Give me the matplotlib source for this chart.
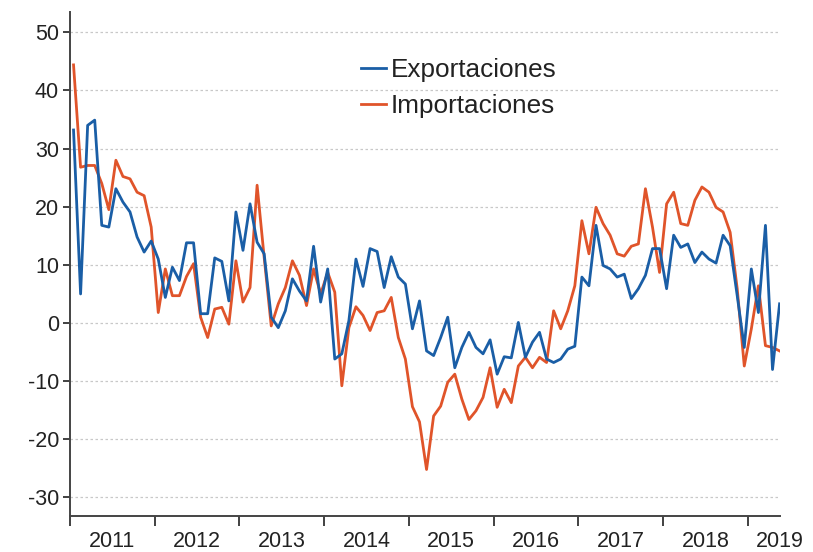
import numpy as np
import matplotlib
matplotlib.use("Agg")
import matplotlib.pyplot as plt

plt.rcParams['font.family'] = ['Liberation Sans', 'DejaVu Sans']
plt.rcParams['axes.unicode_minus'] = False

start_year = 2011
years = [2011, 2012, 2013, 2014, 2015, 2016, 2017, 2018, 2019]

exportaciones = [
    33.2, 5.0, 34.0, 34.9, 16.8, 16.5, 23.1, 20.8, 19.1, 14.8, 12.2, 14.1,
    11.0, 4.4, 9.6, 7.3, 13.8, 13.8, 1.6, 1.6, 11.2, 10.6, 3.8, 19.1,
    12.5, 20.5, 13.9, 11.9, 1.0, -0.8, 2.1, 7.6, 5.5, 3.8, 13.2, 3.6,
    9.3, -6.2, -5.3, 0.4, 11.0, 6.3, 12.8, 12.3, 6.1, 11.4, 7.9, 6.7,
    -1.0, 3.8, -4.8, -5.6, -2.5, 1.0, -7.7, -4.2, -1.6, -4.2, -5.3, -2.9,
    -8.8, -5.8, -6.0, 0.1, -5.9, -3.3, -1.6, -6.2, -6.8, -6.2, -4.5, -4.0,
    7.9, 6.4, 16.8, 9.9, 9.3, 7.9, 8.4, 4.2, 5.9, 8.2, 12.8, 12.8,
    5.9, 15.1, 13.0, 13.6, 10.4, 12.2, 11.0, 10.3, 15.1, 13.3, 4.7, -4.2,
    9.3, 1.8, 16.8, -8.0, 3.3,
]

importaciones = [
    44.4, 26.8, 27.1, 27.1, 24.0, 19.5, 28.0, 25.2, 24.8, 22.5, 21.9, 16.5,
    1.8, 9.3, 4.7, 4.7, 8.0, 10.2, 1.0, -2.5, 2.4, 2.7, -0.2, 10.7,
    3.6, 6.1, 23.7, 11.3, -0.5, 3.3, 6.1, 10.7, 8.2, 3.0, 9.3, 5.0,
    8.7, 5.3, -10.8, -0.8, 2.8, 1.3, -1.3, 1.8, 2.1, 4.4, -2.5, -6.2,
    -14.4, -17.0, -25.2, -16.0, -14.3, -10.2, -8.8, -13.1, -16.6, -15.1, -12.8, -7.7,
    -14.5, -11.4, -13.7, -7.4, -5.9, -7.7, -5.9, -6.8, 2.1, -1.0, 2.1, 6.4,
    17.6, 11.9, 19.9, 17.1, 15.1, 11.9, 11.5, 13.2, 13.6, 23.1, 16.5, 8.7,
    20.5, 22.5, 17.1, 16.8, 21.1, 23.4, 22.5, 19.9, 19.1, 15.6, 5.9, -7.4,
    -1.0, 6.4, -3.9, -4.2, -4.8,
]

n = len(exportaciones)
t = start_year + (np.arange(n) + 0.5) / 12.0

fig = plt.figure(figsize=(8.13, 5.52), dpi=100)
ax = fig.add_axes([70 / 813, 1 - 516 / 552, 710 / 813, (516 - 12) / 552])

blue = '#1a5ea6'
orange = '#e0542a'
ax.plot(t, exportaciones, color=blue, lw=2.0, label='Exportaciones', zorder=3)
ax.plot(t, importaciones, color=orange, lw=2.0, label='Importaciones', zorder=2)

ax.set_xlim(2011, t[-1] + 0.005)
ax.set_ylim(-33.2, 53.5)

ax.set_yticks(np.arange(-30, 51, 10))
ax.yaxis.grid(True, color='#c8c8c8', linestyle=(0, (2, 2)), lw=0.9)
ax.set_axisbelow(True)

ax.set_xticks(years)
ax.set_xticklabels([])
label_pos = [y + 0.5 for y in years[:-1]] + [t[-1]]
ax.set_xticks(label_pos, minor=True)
ax.set_xticklabels([str(y) for y in years], minor=True)
ax.tick_params(axis='x', which='major', direction='out', length=7, width=1.3, color='#333333')
ax.tick_params(axis='x', which='minor', length=0, pad=11, labelsize=15.5, labelcolor='#222222')
ax.tick_params(axis='y', direction='out', length=5, width=1.3, color='#333333', labelsize=15.5,
               labelcolor='#222222', pad=3)

for s in ['top', 'right']:
    ax.spines[s].set_visible(False)
for s in ['left', 'bottom']:
    ax.spines[s].set_color('#444444')
    ax.spines[s].set_linewidth(1.4)

fig.legend(loc='upper left', bbox_to_anchor=(361 / 813, 1 - 58 / 552), bbox_transform=fig.transFigure,
           frameon=False, fontsize=18.8, handlelength=0.95, handletextpad=0.2, labelspacing=0.45,
           borderaxespad=0, borderpad=0, labelcolor='#222222')

fig.savefig('out.png', dpi=100)
